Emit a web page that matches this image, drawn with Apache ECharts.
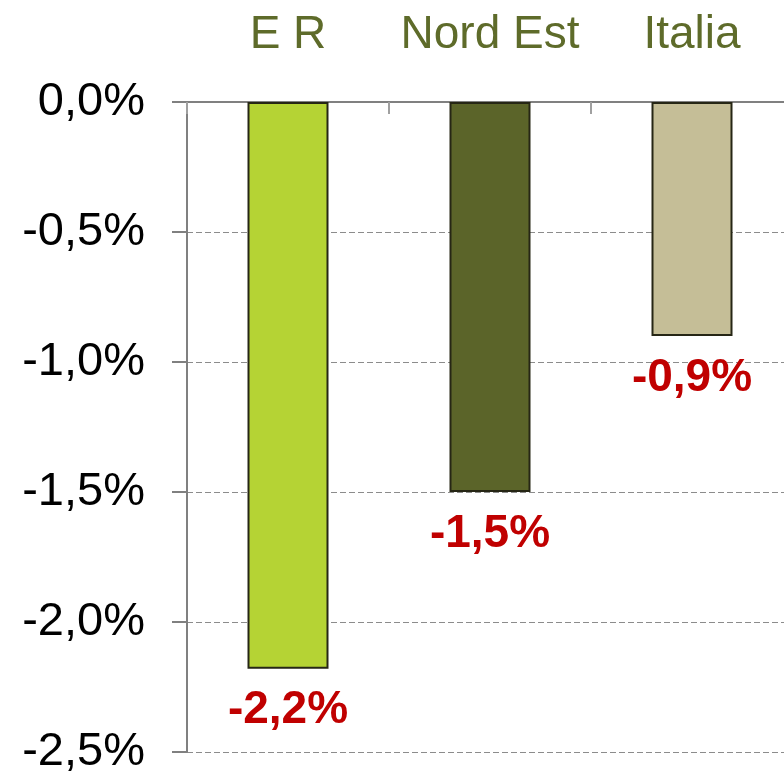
<!DOCTYPE html>
<html>
<head>
<meta charset="utf-8">
<script src="https://cdn.jsdelivr.net/npm/echarts@6/dist/echarts.min.js"></script>
<style>html,body{margin:0;padding:0;background:#fff}#c{width:784px;height:774px}</style>
</head>
<body>
<div id="c"></div>
<script>
const categories = ['E R', 'Nord Est', 'Italia'];
const values = [-2.18, -1.5, -0.9];
const barColors = ['#B5D334', '#5B6429', '#C5BE97'];
const yMin = -2.5, yMax = 0, yInterval = 0.5;

const fmt = v => {
  let s = Math.abs(v) < 1e-9 ? '0,0' : v.toFixed(1).replace('.', ',');
  return s + '%';
};

const chart = echarts.init(document.getElementById('c'), null, {renderer: 'canvas'});
chart.setOption({
  animation: false,
  backgroundColor: '#ffffff',
  grid: {left: 187, top: 102, width: 606, height: 650, containLabel: false, outerBoundsMode: 'none'},
  xAxis: {
    type: 'category',
    position: 'top',
    data: categories,
    axisLine: {onZero: false, lineStyle: {color: '#808080', width: 2}},
    axisTick: {show: true, inside: true, length: 12, alignWithLabel: false, lineStyle: {color: '#a0a0a0', width: 2}},
    axisLabel: {interval: 0, hideOverlap: false, color: '#5E6B2A', fontSize: 46, fontFamily: 'Liberation Sans, Arial, sans-serif', margin: 44},
    splitLine: {show: false}
  },
  yAxis: {
    type: 'value',
    min: yMin, max: yMax, interval: yInterval,
    axisLine: {show: true, lineStyle: {color: '#808080', width: 2}},
    axisTick: {show: true, length: 15, lineStyle: {color: '#808080', width: 2}},
    axisLabel: {color: '#000000', fontSize: 47, fontFamily: 'Liberation Sans, Arial, sans-serif', margin: 42, padding: [8, 0, 0, 0], formatter: fmt},
    splitLine: {show: true, lineStyle: {color: '#8c8c8c', width: 1, type: [6, 3]}}
  },
  series: [{
    type: 'bar',
    barWidth: 81,
    data: values.map((v, i) => ({value: v, itemStyle: {color: barColors[i]}})),
    itemStyle: {borderColor: '#262615', borderWidth: 2},
    label: {
      show: true,
      position: 'bottom',
      distance: 19,
      color: '#C00000',
      fontSize: 46,
      fontWeight: 'bold',
      fontFamily: 'Liberation Sans, Arial, sans-serif',
      formatter: p => fmt(p.value)
    }
  }]
});
</script>
</body>
</html>
